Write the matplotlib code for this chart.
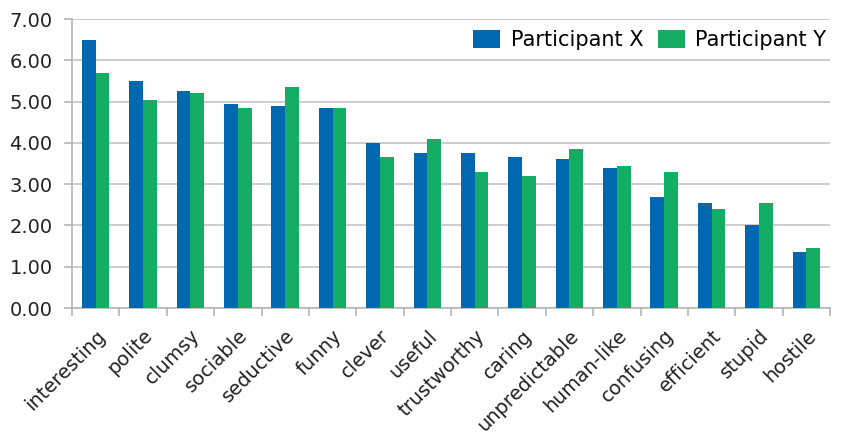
import matplotlib
matplotlib.use("Agg")
import matplotlib.pyplot as plt
import matplotlib.transforms as mtransforms
import numpy as np

# values
words = ['interesting', 'polite', 'clumsy', 'sociable', 'seductive', 'funny',
         'clever', 'useful', 'trustworthy', 'caring', 'unpredictable',
         'human-like', 'confusing', 'efficient', 'stupid', 'hostile']
part_x = [6.50, 5.50, 5.25, 4.95, 4.90, 4.85, 4.00, 3.75, 3.75, 3.65, 3.60,
          3.40, 2.70, 2.55, 2.00, 1.35]
part_y = [5.70, 5.05, 5.20, 4.85, 5.35, 4.85, 3.65, 4.10, 3.30, 3.20, 3.85,
          3.45, 3.30, 2.40, 2.55, 1.45]

blue = '#0068AF'
green = '#14AD64'
grey = '#B5B5B5'

fig = plt.figure(figsize=(8.41, 4.42), dpi=100)
ax = fig.add_axes([0.0856, 0.303, 0.9014, 0.654])

x = np.arange(len(words))
w = 0.29
ax.bar(x - w / 2, part_x, w, color=blue, label='Participant X', zorder=3)
ax.bar(x + w / 2, part_y, w, color=green, label='Participant Y', zorder=3)

ax.set_xlim(-0.5, len(words) - 0.5)
ax.set_ylim(0, 7)
ax.set_yticks(np.arange(0, 8, 1))
ax.set_yticklabels(['%.2f' % v for v in np.arange(0, 8, 1)], fontsize=14, color='#222222')
ax.yaxis.grid(True, color='#C4C4C4', linewidth=1.2, zorder=0)

# x ticks sit between categories, labels at category centres
ax.set_xticks(np.arange(-0.5, len(words), 1))
ax.set_xticklabels([])
ax.set_xticks(x, minor=True)
labels = ax.set_xticklabels(words, minor=True, rotation=45, ha='right',
                            rotation_mode='anchor', fontsize=14, color='#222222')
shift = mtransforms.ScaledTranslation(-7 / 72, 0, fig.dpi_scale_trans)
for lab in labels:
    lab.set_transform(lab.get_transform() + shift)
ax.tick_params(axis='x', which='minor', length=0, pad=13)
ax.tick_params(axis='x', which='major', length=6, color=grey, width=1.2)
ax.tick_params(axis='y', length=6, color=grey, width=1.2, pad=8)

for s in ['top', 'right']:
    ax.spines[s].set_visible(False)
for s in ['left', 'bottom']:
    ax.spines[s].set_color(grey)
    ax.spines[s].set_linewidth(1.2)

ax.legend(loc='upper right', ncol=2, frameon=False, fontsize=15,
          handlelength=1.3, handleheight=0.9, handletextpad=0.5, columnspacing=0.7,
          borderaxespad=0.0, bbox_to_anchor=(1.006, 0.99))

fig.savefig('out.png', dpi=100)
